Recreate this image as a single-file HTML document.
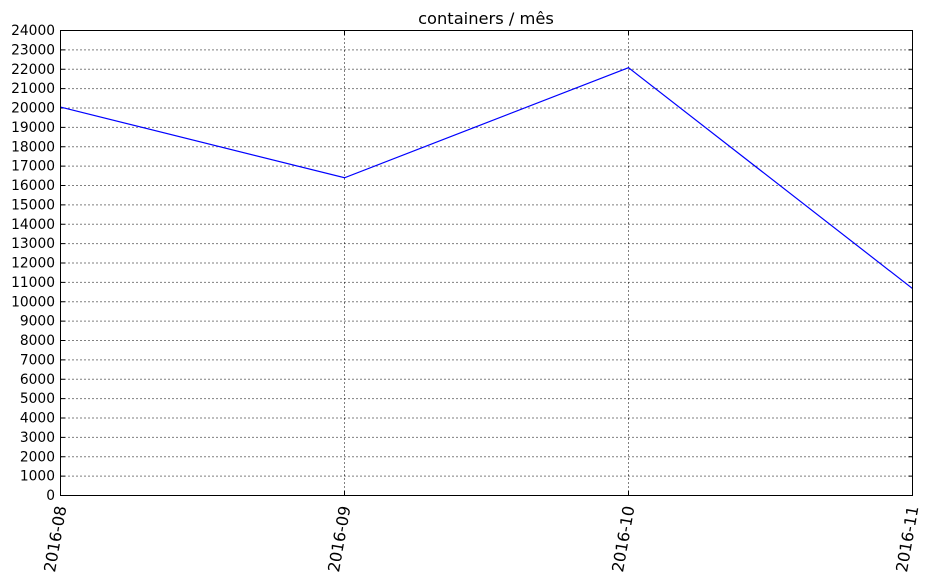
<!DOCTYPE html>
<html><head><meta charset="utf-8"><style>
body{margin:0;background:#fff;}
svg{display:block;font-family:"DejaVu Sans","Liberation Sans",sans-serif;}
</style></head><body>
<svg id="chart" width="936" height="582" viewBox="0 0 936 582">
<rect width="936" height="582" fill="#fff"/>
<text x="486" y="24" text-anchor="middle" font-size="16.3">containers / mês</text>
<g id="grid"></g>
<g id="ticks"></g>
<g id="labels"></g>
<polyline id="series" fill="none" stroke="#0000ff" stroke-width="1.2"/>
<rect x="60.5" y="30.5" width="852" height="465" fill="none" stroke="#000" stroke-width="1"/>
</svg>
<script>
const categories = ["2016-08","2016-09","2016-10","2016-11"];
const values = [20050, 16400, 22080, 10680];
const yTicks = [0,1000,2000,3000,4000,5000,6000,7000,8000,9000,10000,11000,12000,13000,14000,15000,16000,17000,18000,19000,20000,21000,22000,23000,24000];
const NS="http://www.w3.org/2000/svg";
const L=60.5,R=912.5,T=30.5,B=495.5;
const yMax=24000;
function xs(i){return L+(R-L)*i/(categories.length-1);}
function ys(v){return B-(B-T)*v/yMax;}
const grid=document.getElementById('grid'),ticks=document.getElementById('ticks'),labels=document.getElementById('labels');
function mk(tag,attrs,parent){const e=document.createElementNS(NS,tag);for(const k in attrs)e.setAttribute(k,attrs[k]);parent.appendChild(e);return e;}
yTicks.forEach(v=>{
  const y=ys(v);
  const g=mk('line',{x1:L,x2:R,y1:y,y2:y,stroke:'#000','stroke-dasharray':'1,3','stroke-width':1},grid);
  
  
  mk('line',{x1:L,x2:L+4,y1:y,y2:y,stroke:'#000'},ticks);
  mk('line',{x1:R-4,x2:R,y1:y,y2:y,stroke:'#000'},ticks);
  const t=mk('text',{x:55,y:y+4.5,'text-anchor':'end','font-size':13.8},labels);
  t.textContent=v;
  
  
});
categories.forEach((c,i)=>{
  const x=xs(i);
  const g=mk('line',{x1:x,x2:x,y1:T,y2:B,stroke:'#000','stroke-dasharray':'1,3','stroke-width':1},grid);
  
  
  mk('line',{x1:x,x2:x,y1:B,y2:B-4,stroke:'#000'},ticks);
  mk('line',{x1:x,x2:x,y1:T,y2:T+4,stroke:'#000'},ticks);
  const t=mk('text',{x:x+6,y:507,'text-anchor':'end','font-size':16,transform:`rotate(-80 ${x+6} 507)`},labels);
  t.textContent=c;
  
  
});
document.getElementById('series').setAttribute('points',values.map((v,i)=>xs(i)+','+ys(v)).join(' '));
</script>
</body></html>
